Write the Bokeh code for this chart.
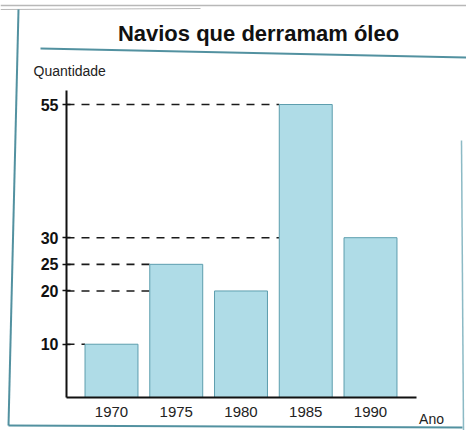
from bokeh.plotting import figure
from bokeh.models import FixedTicker, Range1d, Label, ColumnDataSource
from bokeh.embed import file_html
from bokeh.resources import INLINE

# ---- data ----
years = [1970, 1975, 1980, 1985, 1990]
ships = [10, 25, 20, 55, 30]
y_ticks = [10, 20, 25, 30, 55]
title_text = "Navios que derramam óleo"
y_label = "Quantidade"
x_label = "Ano"

# ---- scales: the plot frame fills the whole page ----
W, H = 466, 430
PX_X = 12.95          # pixels per year
PX_Y = 5.327          # pixels per ship
XS = 1970 - 111 / PX_X
XE = XS + W / PX_X
YE = 397 / PX_Y
YS = YE - H / PX_Y
BAR_W = 4.09
AXIS_X = XS + 66 / PX_X     # where the vertical axis stands
Y_TOP = YE - 90 / PX_Y      # top of the vertical axis
X_END = XS + 416 / PX_X     # right end of the horizontal axis

def X(px):   # page pixel (from left) -> data x
    return XS + px / PX_X

def Y(py):   # page pixel (from top) -> data y
    return YE - py / PX_Y

FONT = "Liberation Sans"
BAR_FILL = "#afdce7"
BAR_LINE = "#5d9eae"
TEAL = "#3f8596"

p = figure(width=W, height=H, output_backend="svg", toolbar_location=None,
           x_range=Range1d(XS, XE), y_range=Range1d(YS, YE),
           min_border=0)
p.outline_line_color = None
p.xgrid.visible = False
p.ygrid.visible = False
p.background_fill_color = "white"
p.border_fill_color = "white"

# page decorations (textbook box)
p.segment(x0=[X(0), X(0), X(18), X(8), X(461), X(40)],
          y0=[Y(5), Y(9), Y(9), Y(425), Y(140), Y(48)],
          x1=[X(466), X(200), X(8), X(462), X(463), X(466)],
          y1=[Y(5), Y(8), Y(425), Y(427), Y(430), Y(57)],
          line_color=["#b0b0b0", "#b0b0b0", TEAL, TEAL, "#7fb2bf", TEAL],
          line_width=[1.5, 1, 2, 2, 1.5, 2], line_alpha=0.9)

# dashed guides: from axis to the left edge of the first bar at least as tall
gx1, gy = [], []
for v in y_ticks:
    for yr, val in zip(years, ships):
        if val >= v:
            gx1.append(yr - BAR_W / 2)
            gy.append(v)
            break
gsrc = ColumnDataSource(dict(x0=[AXIS_X] * len(gy), x1=gx1, y=gy))
p.segment(x0="x0", y0="y", x1="x1", y1="y", source=gsrc,
          line_color="#1a1a1a", line_width=1.6, line_dash="8 7")

# bars
src = ColumnDataSource(dict(x=years, top=ships))
p.vbar(x="x", top="top", width=BAR_W, bottom=0, source=src,
       fill_color=BAR_FILL, line_color=BAR_LINE, line_width=1)

# axes, pinned inside the frame
ya = p.yaxis[0]
ya.fixed_location = AXIS_X
ya.bounds = (0, Y_TOP)
ya.ticker = FixedTicker(ticks=y_ticks)
ya.axis_line_width = 2
ya.axis_line_color = "#111111"
ya.major_tick_line_color = "#111111"
ya.major_tick_line_width = 1.5
ya.major_tick_out = 4
ya.major_tick_in = 4
ya.minor_tick_out = 0
ya.minor_tick_in = 0
ya.major_label_standoff = 4
ya.major_label_text_font = FONT
ya.major_label_text_font_style = "bold"
ya.major_label_text_font_size = "16px"
ya.major_label_text_color = "#111111"

xa = p.xaxis[0]
xa.fixed_location = 0
xa.bounds = (AXIS_X, X_END)
xa.ticker = FixedTicker(ticks=years)
xa.axis_line_width = 2
xa.axis_line_color = "#111111"
xa.major_tick_out = 0
xa.major_tick_in = 0
xa.minor_tick_out = 0
xa.minor_tick_in = 0
xa.major_label_standoff = 9
xa.major_label_text_font = FONT
xa.major_label_text_font_size = "15px"
xa.major_label_text_color = "#222222"

# texts
p.add_layout(Label(x=X(258), y=Y(33), text=title_text, text_font=FONT,
                   text_font_size="22px", text_font_style="bold",
                   text_color="#111111", text_align="center",
                   text_baseline="middle"))
p.add_layout(Label(x=X(33), y=Y(70), text=y_label, text_font=FONT,
                   text_font_size="14px", text_color="#222222",
                   text_align="left", text_baseline="middle"))
p.add_layout(Label(x=X(431), y=Y(418), text=x_label, text_font=FONT,
                   text_font_size="14px", text_color="#222222",
                   text_align="center", text_baseline="middle"))

open("out.html", "w").write(file_html(p, INLINE))
